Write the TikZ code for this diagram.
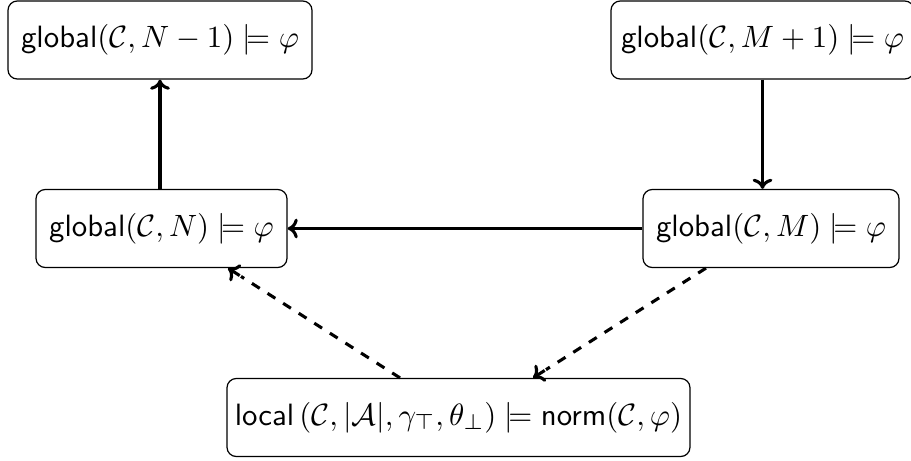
\documentclass[tikz,border=0pt]{standalone}
\usepackage{amsmath,amssymb}
\usetikzlibrary{calc,arrows.meta}
\begin{document}
\begin{tikzpicture}[x=0.3245pt,y=-0.3245pt,
  box/.style={draw, rounded corners=3pt, inner sep=0pt, align=center,
    minimum height={78*0.3245pt}},
  tipstyle/.style={-{To[length=3.3pt,width=6.4pt]}},
  solidarrow/.style={tipstyle, line width=1pt},
  dashline/.style={line width=1pt, dash pattern=on 3pt off 3pt}]
\useasboundingbox (0,0) rectangle (911,460);
\node[box, minimum width={304*0.3245pt}] (tl) at (160,40) {$\textsf{global}(\mathcal{C},N-1)\models\varphi$};
\node[box, minimum width={303*0.3245pt}] (tr) at (762.5,40) {$\textsf{global}(\mathcal{C},M+1)\models\varphi$};
\node[box, minimum width={251*0.3245pt}] (ml) at (161.5,228.5) {$\textsf{global}(\mathcal{C},N)\models\varphi$};
\node[box, minimum width={256*0.3245pt}] (mr) at (771,228.5) {$\textsf{global}(\mathcal{C},M)\models\varphi$};
\node[box, minimum width={463*0.3245pt}] (b) at (458.5,417.5) {$\textsf{local}\,(\mathcal{C},|\mathcal{A}|,\gamma_{\top},\theta_{\bot})\models\textsf{norm}(\mathcal{C},\varphi)$};
\draw[solidarrow] (ml.north -| tl.south) -- (tl.south);
\draw[solidarrow] (tr.south) -- (tr.south |- mr.north);
\draw[solidarrow] (mr.west) -- (ml.east);
% dashed connectors with solid tips
\coordinate (d1s) at ([xshift={-58.5*0.3245pt}]b.north);
\coordinate (d1e) at ([xshift={66.5*0.3245pt}]ml.south);
\coordinate (d2s) at ([xshift={-65*0.3245pt}]mr.south);
\coordinate (d2e) at ([xshift={74.5*0.3245pt}]b.north);
\draw[dashline, shorten >=5pt] (d1s) -- (d1e);
\draw[solidarrow] ($(d1e)!4.5pt!(d1s)$) -- (d1e);
\draw[dashline, shorten >=5pt] (d2s) -- (d2e);
\draw[solidarrow] ($(d2e)!4.5pt!(d2s)$) -- (d2e);
\end{tikzpicture}
\end{document}
